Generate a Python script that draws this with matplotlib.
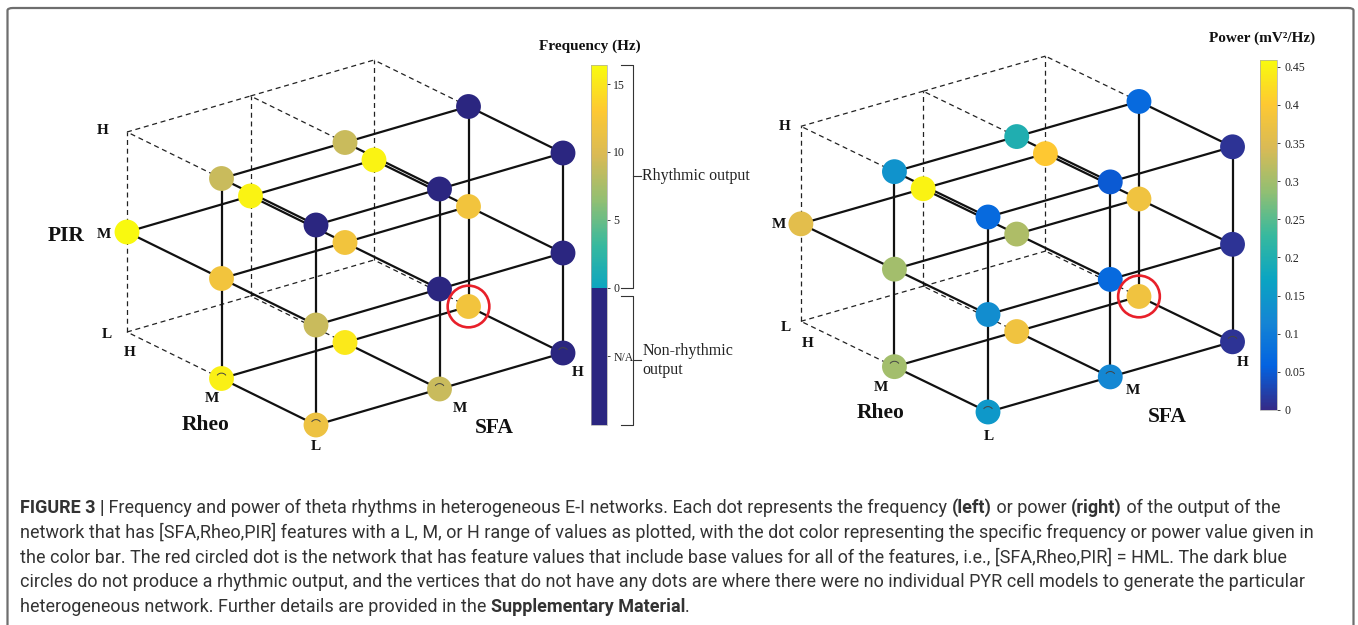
import matplotlib
matplotlib.use("Agg")
import numpy as np
import matplotlib.pyplot as plt
from matplotlib import font_manager
from matplotlib.colors import LinearSegmentedColormap, ListedColormap, Normalize
from matplotlib.cm import ScalarMappable
from matplotlib.path import Path
from matplotlib.patches import FancyBboxPatch
import matplotlib.transforms as mtransforms

W, H = 1358, 625
nan = np.nan

levels = ["L", "M", "H"]

# network features as level index (0=L, 1=M, 2=H)
sfa = [0, 0, 0, 1, 1, 1, 2, 2, 2,
       0, 0, 0, 1, 1, 1, 2, 2, 2,
       0, 1, 2]
rheo = [0, 0, 0, 0, 0, 0, 0, 0, 0,
        1, 1, 1, 1, 1, 1, 1, 1, 1,
        2, 2, 2]
pir = [0, 1, 2, 0, 1, 2, 0, 1, 2,
       0, 1, 2, 0, 1, 2, 0, 1, 2,
       1, 1, 1]

# frequency (Hz), nan = non-rhythmic output
freq = [11.5, 9.0, nan, 9.0, nan, nan, nan, nan, nan,
        15.6, 12.0, 9.0, 15.2, 12.0, 9.0, 12.0, 12.0, nan,
        16.2, 15.8, 15.8]
# power (mV^2/Hz)
power = [0.15, 0.13, 0.07, 0.12, 0.07, 0.05, 0.01, 0.01, 0.01,
         0.30, 0.30, 0.14, 0.38, 0.31, 0.20, 0.38, 0.38, 0.07,
         0.36, 0.45, 0.40]

base_network = (2, 1, 0)  # [SFA,Rheo,PIR] = HML

freq_ticks = [0, 5, 10, 15]
power_ticks = [0, 0.05, 0.1, 0.15, 0.2, 0.25, 0.3, 0.35, 0.4, 0.45]

caption = [
    [("FIGURE 3 |", True), (" Frequency and power of theta rhythms in heterogeneous E-I networks. Each dot represents the frequency ", False),
     ("(left)", True), (" or power ", False), ("(right)", True), (" of the output of the", False)],
    [("network that has [SFA,Rheo,PIR] features with a L, M, or H range of values as plotted, with the dot color representing the specific frequency or power value given in", False)],
    [("the color bar. The red circled dot is the network that has feature values that include base values for all of the features, i.e., [SFA,Rheo,PIR] = HML. The dark blue", False)],
    [("circles do not produce a rhythmic output, and the vertices that do not have any dots are where there were no individual PYR cell models to generate the particular", False)],
    [("heterogeneous network. Further details are provided in the ", False), ("Supplementary Material", True), (".", False)],
]
# right end of each caption line in the reference (px), used to fit the font size
caption_ends = [1322, 1336, 1283, 1329]

# parula-like colormap
parula = LinearSegmentedColormap.from_list("parula", [
    (0.2081, 0.1663, 0.5292), (0.0117, 0.3875, 0.8820), (0.0793, 0.5200, 0.8312),
    (0.0400, 0.6450, 0.7600), (0.2178, 0.7250, 0.6193), (0.5709, 0.7485, 0.4494),
    (0.8507, 0.7299, 0.3360), (0.9955, 0.7861, 0.1967), (0.9763, 0.9831, 0.0538)])
navy = (0.17, 0.15, 0.50)

SERIF = "Liberation Serif"
SFA_DIR = (1.235, 0.36)
RHEO_DIR = (-0.945, 0.465)
PIR_DIR = (0.0, 1.0)


def project(s, r, p):
    s, r, p = np.asarray(s, float), np.asarray(r, float), np.asarray(p, float)
    x = s * SFA_DIR[0] + r * RHEO_DIR[0] + p * PIR_DIR[0]
    y = s * SFA_DIR[1] + r * RHEO_DIR[1] + p * PIR_DIR[1]
    return x, y


def cube_axes(fig, box, origin, ppu):
    x0, y0, x1, y1 = box
    ox, oy = origin
    ax = fig.add_axes([x0 / W, 1 - y1 / H, (x1 - x0) / W, (y1 - y0) / H])
    ax.set_xlim((x0 - ox) / ppu[0], (x1 - ox) / ppu[0])
    ax.set_ylim((oy - y1) / ppu[1], (oy - y0) / ppu[1])
    ax.axis("off")
    ax.patch.set_alpha(0)
    return ax


def draw_cube(ax, values, cmap, norm, skip_vertical=((1, 1),)):
    exists = set(zip(sfa, rheo, pir))
    for d in [(1, 0, 0), (0, 1, 0), (0, 0, 1)]:
        for s in range(3):
            for r in range(3):
                for p in range(3):
                    a = (s, r, p)
                    b = (s + d[0], r + d[1], p + d[2])
                    if max(b) > 2:
                        continue
                    if d == (0, 0, 1) and (s, r) in skip_vertical:
                        continue
                    xs, ys = project([a[0], b[0]], [a[1], b[1]], [a[2], b[2]])
                    if a in exists and b in exists:
                        ax.plot(xs, ys, color="#111111", lw=1.6, zorder=2,
                                solid_capstyle="butt")
                    else:
                        ax.plot(xs, ys, color="#222222", lw=0.9, zorder=1,
                                dashes=(4, 3))
    x, y = project(sfa, rheo, pir)
    order = np.argsort(-(np.array(sfa) + np.array(rheo)), kind="stable")
    ax.scatter(x[order], y[order], c=np.asarray(values)[order], cmap=cmap, norm=norm,
               s=320, edgecolors="none", plotnonfinite=True, zorder=3)
    # small arcs on the bottom front dots
    arc = Path.arc(35, 145)
    mask = [(pp == 0 and (ss == 0 or rr == 0)) for ss, rr, pp in zip(sfa, rheo, pir)]
    ax.scatter(x[mask], y[mask], marker=arc, s=60, facecolors="none",
               edgecolors="#444444", linewidths=0.7, zorder=4)
    bx, by = project(*base_network)
    ax.scatter([bx], [by], s=900, facecolors="none", edgecolors="#e8202a",
               linewidths=1.9, zorder=5)


def label(ax, s, r, p, text, off, size=11):
    x, y = project(s, r, p)
    ax.annotate(text, (x, y), xytext=off, textcoords="offset pixels",
                ha="center", va="center", fontsize=size, fontweight="bold",
                family=SERIF, color="#111111", annotation_clip=False)


def axis_labels(ax, pir_off, rheo_off, sfa_off, rheo_title, sfa_title, pir_title=None):
    for i in range(3):
        label(ax, 0, 2, i, levels[i], pir_off[i])
        label(ax, 0, i, 0, levels[i], rheo_off[i])
    for i in (1, 2):
        label(ax, i, 0, 0, levels[i], sfa_off[i - 1])
    label(ax, 0, 1, 0, "Rheo", rheo_title, size=15.5)
    label(ax, 1, 0, 0, "SFA", sfa_title, size=15.5)
    if pir_title is not None:
        label(ax, 0, 2, 1, "PIR", pir_title, size=15.5)


fig = plt.figure(figsize=(W / 100, H / 100), dpi=100)
fig.patch.set_facecolor("white")

# frame (bottom edge runs off the picture)
top = 1 - 8 / H
fig.add_artist(FancyBboxPatch((7.5 / W, -0.05), (1353.5 - 7.5) / W, top + 0.05,
                              boxstyle="round,pad=0,rounding_size=0.004",
                              transform=fig.transFigure, facecolor="none",
                              edgecolor="#6e6e6e", linewidth=1.6))

# ---- left: frequency ----
f_vmin, f_vmax = -10.1, 16.4
vals = np.linspace(f_vmin, f_vmax, 530)
cols = parula((vals - f_vmin) / (f_vmax - f_vmin))
cols[vals < 0] = (*navy, 1.0)
freq_cmap = ListedColormap(cols)
freq_cmap.set_bad(navy)
freq_norm = Normalize(f_vmin, f_vmax)

axL = cube_axes(fig, (0, 0, 690, 480), (316, 425), (100, 100))
draw_cube(axL, np.array(freq, float), freq_cmap, freq_norm)
axis_labels(axL,
            pir_off=[(-20, -3), (-23, -3), (-24, 1)],
            rheo_off=[(0, -22), (-10, -20), (3, -20)],
            sfa_off=[(20, -19), (15, -20)],
            rheo_title=(-16, -46), sfa_title=(55, -39), pir_title=(-61, -4))

caxL = fig.add_axes([591 / W, 1 - 425 / H, 16 / W, 360 / H])
cbL = fig.colorbar(ScalarMappable(freq_norm, freq_cmap), cax=caxL)
cbL.set_ticks([f_vmin / 2] + freq_ticks)
cbL.set_ticklabels(["N/A"] + [str(t) for t in freq_ticks])
caxL.tick_params(length=2.5, width=0.6, pad=2, labelsize=8.5, colors="#222222")
for t in caxL.get_yticklabels():
    t.set_family(SERIF)
cbL.outline.set_edgecolor("#aaaaaa")
cbL.outline.set_linewidth(0.5)
bt = mtransforms.blended_transform_factory(caxL.transAxes, caxL.transData)
caxL.text(-0.05, f_vmax + 1.1, "Frequency (Hz)", transform=bt,
          ha="center", va="baseline", fontsize=11, fontweight="bold", family=SERIF, color="#111111")

# brackets with labels
for lo, hi, txt in [(0.0, f_vmax, "Rhythmic output"), (-0.6, f_vmin, "Non-rhythmic\noutput")]:
    caxL.plot([1.88, 2.6, 2.6, 1.88], [lo, lo, hi, hi], transform=bt, color="#333333",
              lw=0.8, clip_on=False)
    mid = (lo + hi) / 2
    caxL.plot([2.6, 3.1], [mid, mid], transform=bt, color="#333333", lw=0.8, clip_on=False)
    caxL.text(3.2, mid, txt, transform=bt, ha="left", va="center", fontsize=11.5,
              family=SERIF, color="#222222", linespacing=1.2)

# ---- right: power ----
p_vmax = 0.459
pow_norm = Normalize(0, p_vmax)
axR = cube_axes(fig, (690, 0, 1258, 480), (988, 412), (99, 97.5))
draw_cube(axR, power, parula, pow_norm)
axis_labels(axR,
            pir_off=[(-15, -6), (-22, -1), (-16, 0)],
            rheo_off=[(1, -24), (-13, -21), (7, -22)],
            sfa_off=[(23, -14), (10, -21)],
            rheo_title=(-14, -46), sfa_title=(57, -40))

caxR = fig.add_axes([1260 / W, 1 - 410 / H, 17 / W, 350 / H])
cbR = fig.colorbar(ScalarMappable(pow_norm, parula), cax=caxR)
cbR.set_ticks(power_ticks)
cbR.set_ticklabels([("%g" % t) for t in power_ticks])
caxR.tick_params(length=2.5, width=0.6, pad=3, labelsize=8.5, colors="#222222")
for t in caxR.get_yticklabels():
    t.set_family(SERIF)
cbR.outline.set_edgecolor("#aaaaaa")
cbR.outline.set_linewidth(0.5)
btR = mtransforms.blended_transform_factory(caxR.transAxes, caxR.transData)
caxR.text(0.1, p_vmax + 0.024, "Power (mV²/Hz)", transform=btR,
          ha="center", va="baseline", fontsize=11, fontweight="bold", family=SERIF, color="#111111")

# ---- caption ----
names = {f.name for f in font_manager.fontManager.ttflist}
cap_family = "Liberation Sans Narrow" if "Liberation Sans Narrow" in names else "Roboto"
renderer = fig.canvas.get_renderer()


def text_width(txt, size, bold):
    kw = dict(fontsize=size, family=cap_family, fontweight="bold" if bold else "normal")
    t1 = fig.text(0, 0, "|" + txt + "|", **kw)
    t2 = fig.text(0, 0, "||", **kw)
    w = t1.get_window_extent(renderer).width - t2.get_window_extent(renderer).width
    t1.remove()
    t2.remove()
    return w


base_size = 12.0
ratios = []
for line, end in zip(caption, caption_ends):
    w = sum(text_width(t, base_size, b) for t, b in line)
    ratios.append((end - 20) / w)
cap_size = base_size * min(ratios)

for i, line in enumerate(caption):
    x = 20.0
    y = 513 + 24.8 * i
    for txt, bold in line:
        fig.text(x / W, 1 - y / H, txt, fontsize=cap_size, family=cap_family,
                 fontweight="bold" if bold else "normal", color="#333333",
                 va="baseline", ha="left")
        x += text_width(txt, cap_size, bold)

fig.savefig("out.png", dpi=100, facecolor="white")
